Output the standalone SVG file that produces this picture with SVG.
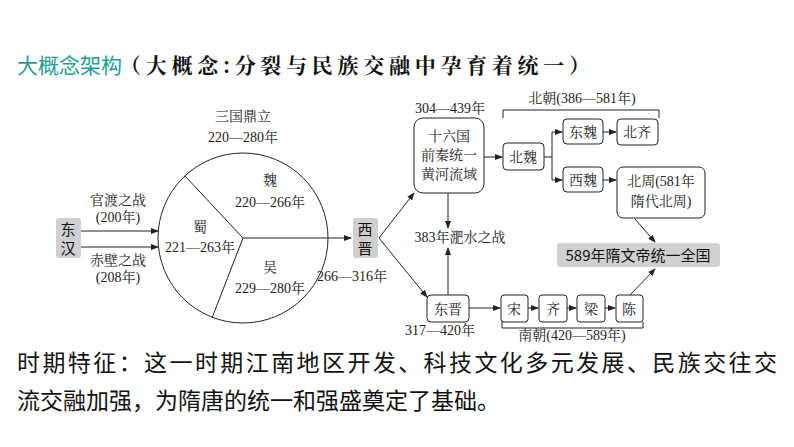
<svg xmlns="http://www.w3.org/2000/svg" width="794" height="447" viewBox="0 0 794 447">
<defs>
<marker id="ah" markerWidth="8" markerHeight="6" refX="7" refY="3" orient="auto" markerUnits="userSpaceOnUse"><path d="M0,0 L8,3 L0,6 Z" fill="#222"/></marker>
<style>
.s{font-family:"Liberation Serif","Noto Serif CJK SC","Noto Sans CJK SC",serif;font-size:14px;fill:#222;text-anchor:middle}
.b{fill:#fff;stroke:#222;stroke-width:1}
.g{fill:#d0d0d0;stroke:none}
.k{font-family:"Noto Sans CJK SC",sans-serif;font-size:15px;fill:#111;text-anchor:middle}
.l{stroke:#222;stroke-width:1;fill:none}
.a{stroke:#222;stroke-width:1;fill:none;marker-end:url(#ah)}
</style>
</defs>
<rect width="794" height="447" fill="#fff"/>
<text x="17" y="73" font-family="Noto Sans CJK SC,sans-serif" font-size="21" fill="#1a9e96">大概念架构</text>
<text x="120" y="73" font-family="Noto Serif CJK SC,Noto Sans CJK SC,serif" font-weight="bold" font-size="21" fill="#111" textLength="470">（大概念:分裂与民族交融中孕育着统一）</text>
<g id="sanguo">
<circle cx="243" cy="238" r="85" class="b"/>
<text x="243" y="121" class="s">三国鼎立</text>
<text x="243" y="142" class="s">220—280年</text>
<text x="270" y="185" class="s">魏</text>
<text x="270" y="207" class="s">220—266年</text>
<text x="200" y="232" class="s">蜀</text>
<text x="200" y="252" class="s">221—263年</text>
<text x="270" y="272" class="s">吴</text>
<text x="270" y="293" class="s">229—280年</text>
</g>
<g id="donghan"><rect x="56" y="218" width="25" height="40" rx="3" class="g"/><text x="68" y="235" class="k">东</text><text x="68" y="254" class="k">汉</text></g>
<g id="xijin"><rect x="353" y="218" width="25" height="40" rx="3" class="g"/><text x="365" y="235" class="k">西</text><text x="365" y="254" class="k">晋</text><text x="352" y="281" class="s">266—316年</text></g>
<g id="shiliuguo"><rect x="414" y="118" width="70" height="75" rx="9" class="b"/><text x="449" y="141" class="s">十六国</text><text x="449" y="160" class="s">前秦统一</text><text x="449" y="179" class="s">黄河流域</text><text x="450" y="113" class="s">304—439年</text></g>
<g id="beiwei"><rect x="503" y="143" width="41" height="27" rx="4" class="b"/><text x="523" y="162" class="s">北魏</text></g>
<g id="dongwei"><rect x="563" y="119" width="40" height="25" rx="4" class="b"/><text x="583" y="137" class="s">东魏</text></g>
<g id="beiqi"><rect x="617" y="119" width="41" height="26" rx="4" class="b"/><text x="637" y="137" class="s">北齐</text></g>
<g id="xiwei"><rect x="563" y="167" width="40" height="25" rx="4" class="b"/><text x="583" y="185" class="s">西魏</text></g>
<g id="beizhou"><rect x="617" y="167" width="88" height="51" rx="6" class="b"/><text x="661" y="186" class="s">北周(581年</text><text x="661" y="206" class="s">隋代北周)</text></g>
<g id="feishui"><text x="460" y="242" class="s">383年淝水之战</text></g>
<g id="sui"><rect x="557" y="243" width="163" height="24" rx="3" class="g"/><text x="638" y="261" class="k">589年隋文帝统一全国</text></g>
<g id="dongjin"><rect x="427" y="295" width="42" height="27" rx="4" class="b"/><text x="448" y="314" class="s">东晋</text><text x="440" y="335" class="s">317—420年</text></g>
<g id="song"><rect x="501" y="295" width="27" height="27" rx="3" class="b"/><text x="514" y="314" class="s">宋</text></g>
<g id="qi"><rect x="539" y="295" width="28" height="27" rx="3" class="b"/><text x="553" y="314" class="s">齐</text></g>
<g id="liang"><rect x="577" y="295" width="28" height="27" rx="3" class="b"/><text x="591" y="314" class="s">梁</text></g>
<g id="chen"><rect x="616" y="295" width="27" height="27" rx="3" class="b"/><text x="629" y="314" class="s">陈</text></g>
<g id="beichao"><path d="M503,118 V110 H659 V118" class="l"/><text x="582" y="103" class="s">北朝(386—581年)</text></g>
<g id="nanchao"><path d="M502,322 V328 H643 V322" class="l"/><text x="572" y="340" class="s" font-size="13">南朝(420—589年)</text></g>
<g id="connectors">
<path d="M185,176 L243,238 L212,318" class="l"/>
<path d="M243,238 H351" class="a"/>
<path d="M81,231 H158" class="a"/>
<path d="M81,247 H158" class="a"/>
<text x="118" y="205" class="s">官渡之战</text><text x="118" y="222" class="s">(200年)</text>
<text x="118" y="265" class="s">赤壁之战</text><text x="118" y="282" class="s">(208年)</text>
<path d="M379,238 L414,193" class="a"/>
<path d="M379,238 L427,297" class="a"/>
<path d="M484,157 H502" class="a"/>
<path d="M544,157 H552 V132 H562" class="a"/>
<path d="M552,157 V180 H562" class="a"/>
<path d="M603,132 H616" class="a"/>
<path d="M603,180 H616" class="a"/>
<path d="M448,193 V228" class="a"/>
<path d="M448,295 V248" class="a"/>
<path d="M469,308 H500" class="a"/>
<path d="M528,308 H538" class="a"/>
<path d="M567,308 H576" class="a"/>
<path d="M605,308 H615" class="a"/>
<path d="M635,219 L655,242" class="a"/>
<path d="M630,295 L655,269" class="a"/>
</g>
<g id="summary" font-family="Noto Sans CJK SC,sans-serif" font-size="23" fill="#111">
<text x="17" y="371" textLength="760">时期特征：这一时期江南地区开发、科技文化多元发展、民族交往交</text>
<text x="17" y="409">流交融加强，为隋唐的统一和强盛奠定了基础。</text>
</g>
</svg>
